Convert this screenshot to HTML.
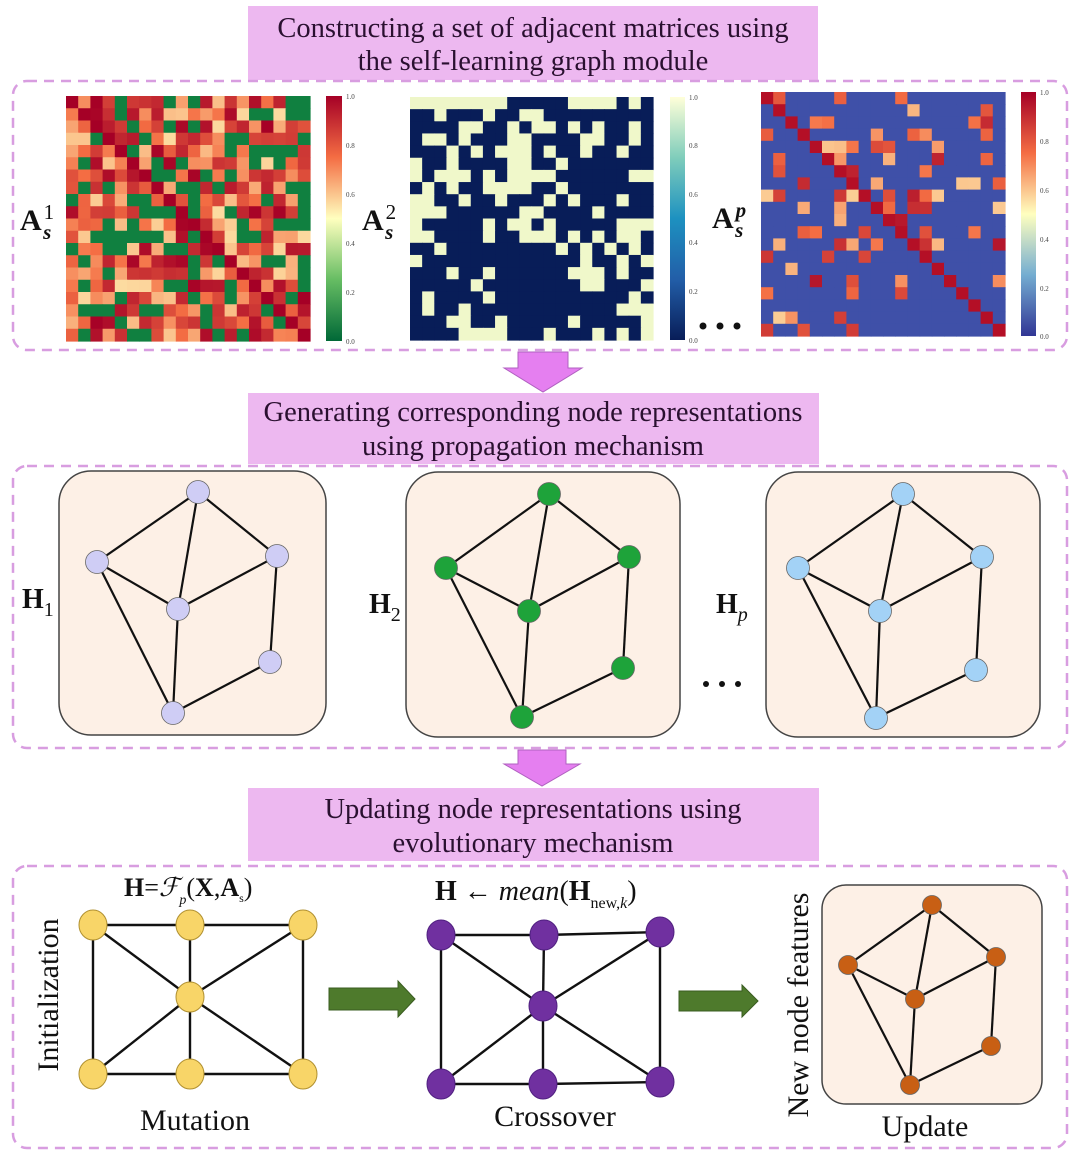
<!DOCTYPE html>
<html><head><meta charset="utf-8"><style>
html,body{margin:0;padding:0;background:#fff;}
svg{display:block;}
text{font-family:"Liberation Serif",serif;}
</style></head><body>
<svg id="s" width="1080" height="1156" viewBox="0 0 1080 1156" xmlns="http://www.w3.org/2000/svg">
<defs>
<linearGradient id="cb1" x1="0" y1="1" x2="0" y2="0"><stop offset="0" stop-color="#006837"/><stop offset="0.25" stop-color="#66bd63"/><stop offset="0.5" stop-color="#ffffbf"/><stop offset="0.75" stop-color="#f46d43"/><stop offset="1" stop-color="#a50026"/></linearGradient>
<linearGradient id="cb2" x1="0" y1="1" x2="0" y2="0"><stop offset="0" stop-color="#081d58"/><stop offset="0.25" stop-color="#225ea8"/><stop offset="0.5" stop-color="#1d91c0"/><stop offset="0.75" stop-color="#7fcdbb"/><stop offset="1" stop-color="#ffffd9"/></linearGradient>
<linearGradient id="cb3" x1="0" y1="1" x2="0" y2="0"><stop offset="0" stop-color="#313695"/><stop offset="0.25" stop-color="#74add1"/><stop offset="0.5" stop-color="#ffffbf"/><stop offset="0.75" stop-color="#f46d43"/><stop offset="1" stop-color="#a50026"/></linearGradient>
</defs>
<rect x="248" y="6" width="570" height="74" fill="#edb8f0"/>
<text x="533" y="37" font-size="28.5" text-anchor="middle" fill="#2a1030">Constructing a set of adjacent matrices using</text>
<text x="533" y="70" font-size="28.5" text-anchor="middle" fill="#2a1030">the self-learning graph module</text>
<rect x="13" y="81" width="1054" height="269" rx="14" fill="none" stroke="#d89de0" stroke-width="2.5" stroke-dasharray="10,7"/>

<polygon points="518,352 568,352 568,368 582,368 543,392 504,368 518,368" fill="#e57ff0" stroke="#b060c0" stroke-width="1"/>
<rect x="248" y="393" width="571" height="71" fill="#edb8f0"/>
<text x="533" y="421" font-size="28.5" text-anchor="middle" fill="#2a1030">Generating corresponding node representations</text>
<text x="533" y="455" font-size="28.5" text-anchor="middle" fill="#2a1030">using propagation mechanism</text>
<rect x="13" y="466" width="1054" height="282" rx="14" fill="none" stroke="#d89de0" stroke-width="2.5" stroke-dasharray="10,7"/>

<polygon points="518,750 566,750 566,764 580,764 542,786 504,764 518,764" fill="#e57ff0" stroke="#b060c0" stroke-width="1"/>
<rect x="248" y="788" width="571" height="73" fill="#edb8f0"/>
<text x="533" y="818" font-size="28.5" text-anchor="middle" fill="#2a1030">Updating node representations using</text>
<text x="533" y="852" font-size="28.5" text-anchor="middle" fill="#2a1030">evolutionary mechanism</text>
<rect x="13" y="866" width="1054" height="282" rx="14" fill="none" stroke="#d89de0" stroke-width="2.5" stroke-dasharray="10,7"/>

<g id="hm"></g>
<rect x="326" y="96" width="16" height="245" fill="url(#cb1)"/>
<rect x="670" y="97" width="15" height="243" fill="url(#cb2)"/>
<rect x="1021" y="92" width="15" height="244" fill="url(#cb3)"/>
<g font-size="7" fill="#444">
<text x="346" y="99">1.0</text><text x="346" y="148">0.8</text><text x="346" y="197">0.6</text><text x="346" y="246">0.4</text><text x="346" y="295">0.2</text><text x="346" y="344">0.0</text>
<text x="689" y="100">1.0</text><text x="689" y="148">0.8</text><text x="689" y="197">0.6</text><text x="689" y="245">0.4</text><text x="689" y="294">0.2</text><text x="689" y="343">0.0</text>
<text x="1040" y="95">1.0</text><text x="1040" y="144">0.8</text><text x="1040" y="193">0.6</text><text x="1040" y="242">0.4</text><text x="1040" y="291">0.2</text><text x="1040" y="339">0.0</text>
</g>
<g font-weight="bold" font-size="30" fill="#111">
<text x="20" y="230">A<tspan font-size="21" font-weight="normal" dx="2" dy="-11">1</tspan><tspan font-size="21" font-style="italic" dx="-11" dy="20">s</tspan></text>
<text x="362" y="230">A<tspan font-size="21" font-weight="normal" dx="2" dy="-11">2</tspan><tspan font-size="21" font-style="italic" dx="-11" dy="20">s</tspan></text>
<text x="712" y="228">A<tspan font-size="21" font-style="italic" dx="2" dy="-11">p</tspan><tspan font-size="21" font-style="italic" dx="-11" dy="20">s</tspan></text>
</g>
<g fill="#111"><circle cx="703" cy="326" r="3.5"/><circle cx="720" cy="326" r="3.5"/><circle cx="737" cy="326" r="3.5"/>
<circle cx="706" cy="684" r="3"/><circle cx="722" cy="684" r="3"/><circle cx="738" cy="684" r="3"/></g>

<rect x="59" y="471" width="267" height="264" rx="32" fill="#fdf0e6" stroke="#444" stroke-width="1.5"/>
<rect x="406" y="472" width="274" height="265" rx="32" fill="#fdf0e6" stroke="#444" stroke-width="1.5"/>
<rect x="766" y="472" width="274" height="265" rx="32" fill="#fdf0e6" stroke="#444" stroke-width="1.5"/>
<rect x="822" y="885" width="220" height="219" rx="24" fill="#fdf0e6" stroke="#444" stroke-width="1.5"/>
<g id="gr"></g>
<g font-weight="bold" font-size="28" fill="#111">
<text x="22" y="608">H<tspan font-size="20" font-weight="normal" dy="8">1</tspan></text>
<text x="369" y="613">H<tspan font-size="20" font-weight="normal" dy="8">2</tspan></text>
<text x="716" y="613">H<tspan font-size="20" font-weight="normal" font-style="italic" dy="8">p</tspan></text>
</g>

<polygon points="329,988 398,988 398,981 415,999 398,1017 398,1010 329,1010" fill="#4e7a2c" stroke="#3a5c20"/>
<polygon points="679,991 742,991 742,985 758,1001 742,1017 742,1011 679,1011" fill="#4e7a2c" stroke="#3a5c20"/>
<text x="58" y="995" font-size="30" text-anchor="middle" transform="rotate(-90 58 995)" fill="#111">Initialization</text>
<text x="808" y="1005" font-size="30" text-anchor="middle" transform="rotate(-90 808 1005)" fill="#111">New node features</text>
<text x="195" y="1130" font-size="30" text-anchor="middle" fill="#111">Mutation</text>
<text x="555" y="1126" font-size="30" text-anchor="middle" fill="#111">Crossover</text>
<text x="925" y="1136" font-size="30" text-anchor="middle" fill="#111">Update</text>
<text x="124" y="896" font-size="26" fill="#111"><tspan font-weight="bold">H</tspan>=<tspan font-style="italic">ℱ</tspan><tspan font-size="14" font-style="italic" dy="8">p</tspan><tspan dy="-8">(</tspan><tspan font-weight="bold">X</tspan>,<tspan font-weight="bold">A</tspan><tspan font-size="12" dy="6">s</tspan><tspan dy="-6">)</tspan></text>
<text x="435" y="900" font-size="28" fill="#111"><tspan font-weight="bold">H</tspan> ← <tspan font-style="italic">mean</tspan>(<tspan font-weight="bold">H</tspan><tspan font-size="16" dy="8">new,</tspan><tspan font-size="16" font-style="italic">k</tspan><tspan dy="-8">)</tspan></text>
</svg>
<script>
var NS="http://www.w3.org/2000/svg";
var seed=12345;function r(){seed=(seed*1103515245+12345)%2147483648;return seed/2147483648;}
function lerp(a,b,t){return a+(b-a)*t;}
function cm(stops,v){for(var i=0;i<stops.length-1;i++){if(v<=stops[i+1][0]){var t=(v-stops[i][0])/(stops[i+1][0]-stops[i][0]);var a=stops[i][1],b=stops[i+1][1];return "rgb("+Math.round(lerp(a[0],b[0],t))+","+Math.round(lerp(a[1],b[1],t))+","+Math.round(lerp(a[2],b[2],t))+")";}}return "rgb("+stops[stops.length-1][1].join(",")+")";}
var RYG=[[0,[0,104,55]],[0.25,[102,189,99]],[0.5,[255,255,191]],[0.75,[244,109,67]],[1,[165,0,38]]];
var RYB=[[0,[63,80,168]],[0.25,[116,173,209]],[0.5,[255,255,191]],[0.75,[244,109,67]],[1,[165,0,38]]];
var hm=document.getElementById("hm");
function rect(x,y,w,h,f){var e=document.createElementNS(NS,"rect");e.setAttribute("x",x);e.setAttribute("y",y);e.setAttribute("width",w+0.6);e.setAttribute("height",h+0.6);e.setAttribute("fill",f);hm.appendChild(e);}
function grid(x0,y0,W,H,fn){var n=20,cw=W/n,ch=H/n;for(var i=0;i<n;i++)for(var j=0;j<n;j++)rect(x0+j*cw,y0+i*ch,cw,ch,fn(i,j));}
grid(66,96,244,245,function(i,j){if(i==j)return "rgb(165,0,38)";var v=r();if(v<0.3)return "rgb(16,128,64)";return cm(RYG,0.56+r()*0.44);});
grid(410,97,243,243,function(i,j){var v=r();if(i<1&&j<8)return "rgb(238,246,200)";return v<0.3?"rgb(240,248,202)":"rgb(8,29,88)";});
grid(761,92,244,244,function(i,j){if(i==j)return "rgb(180,15,38)";var v=r();if(v<0.2)return cm(RYB,0.58+r()*0.37);return "rgb(63,80,168)";});
var gr=document.getElementById("gr");
function line(a,b,c,d,w){var e=document.createElementNS(NS,"line");e.setAttribute("x1",a);e.setAttribute("y1",b);e.setAttribute("x2",c);e.setAttribute("y2",d);e.setAttribute("stroke","#111");e.setAttribute("stroke-width",w||2.2);gr.appendChild(e);}
function circ(x,y,rx,ry,f){var e=document.createElementNS(NS,"ellipse");e.setAttribute("cx",x);e.setAttribute("cy",y);e.setAttribute("rx",rx);e.setAttribute("ry",ry);e.setAttribute("fill",f);e.setAttribute("stroke","#666");e.setAttribute("stroke-width","0.8");gr.appendChild(e);}
var E=[[0,1],[0,2],[0,3],[1,3],[2,3],[1,5],[3,5],[5,4],[2,4]];
function g(P,f,rad){E.forEach(function(e){line(P[e[0]][0],P[e[0]][1],P[e[1]][0],P[e[1]][1]);});P.forEach(function(p){circ(p[0],p[1],rad,rad,f);});}
g([[198,492],[97,562],[277,556],[178,609],[270,662],[173,713]],"#cfcdf5",11.5);
g([[549,494],[446,568],[629,557],[529,611],[623,668],[522,717]],"#1ea33a",11.5);
g([[903,494],[798,568],[982,557],[880,611],[976,670],[876,718]],"#a3d2f6",11.5);
g([[932,905],[848,965],[996,957],[915,999],[991,1046],[910,1085]],"#c85f14",9.5);
var Q=[[0,1],[1,2],[4,5],[5,6],[0,4],[2,6],[1,3],[3,5],[0,3],[3,6],[2,3],[3,4]];
function g2(P,f,stroke){Q.forEach(function(e){line(P[e[0]][0],P[e[0]][1],P[e[1]][0],P[e[1]][1],2.4);});P.forEach(function(p){var e=document.createElementNS(NS,"ellipse");e.setAttribute("cx",p[0]);e.setAttribute("cy",p[1]);e.setAttribute("rx",14);e.setAttribute("ry",15);e.setAttribute("fill",f);e.setAttribute("stroke",stroke);gr.appendChild(e);});}
g2([[93,925],[190,925],[303,925],[190,997],[93,1074],[190,1074],[303,1074]],"#f8d568","#b09030");
g2([[441,935],[544,935],[660,932],[543,1006],[441,1084],[543,1084],[660,1082]],"#7030a0","#502080");
</script>
</body></html>
